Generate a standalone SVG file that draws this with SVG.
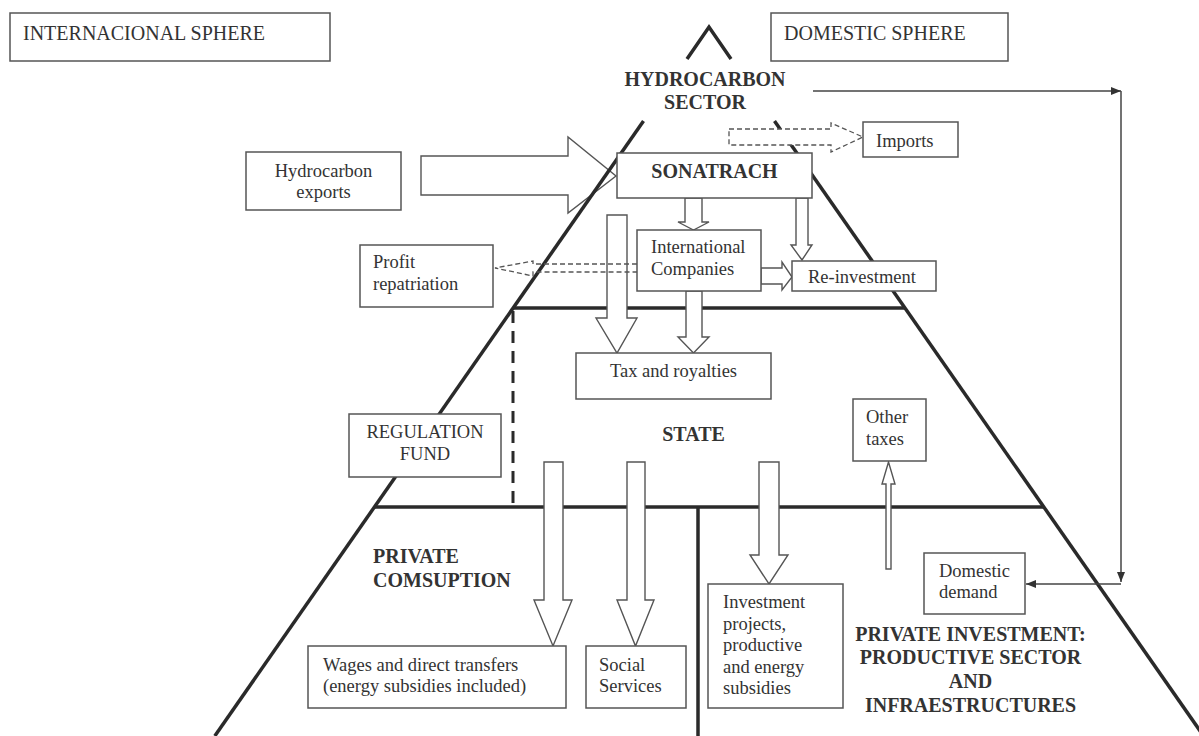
<svg xmlns="http://www.w3.org/2000/svg" width="1199" height="736" viewBox="0 0 1199 736">
<defs>
<style>
.box{fill:#fff;stroke:#555;stroke-width:1.5}
.t{font-family:"Liberation Serif","Times New Roman",serif;font-size:18.5px;fill:#333}
.sp{font-family:"Liberation Serif","Times New Roman",serif;font-size:20px;fill:#333}
.b{font-family:"Liberation Serif","Times New Roman",serif;font-size:20px;font-weight:bold;fill:#333}
.pyr{stroke:#2a2a2a;stroke-width:3.5;fill:none;stroke-linecap:butt}
.hol{fill:#fff;stroke:#555;stroke-width:1.4;stroke-linejoin:miter}
.dash{stroke:#555;stroke-width:1.3;stroke-dasharray:5 3}
.thin{stroke:#444;stroke-width:1.5;fill:none}
</style>
<marker id="ah" viewBox="0 0 10 8" refX="10" refY="4" markerWidth="10" markerHeight="8" markerUnits="userSpaceOnUse" orient="auto"><path d="M0,0 L10,4 L0,8 z" fill="#333"/></marker>
</defs>
<rect width="1199" height="736" fill="#fff"/>

<g id="connectors">
  <polygon class="hol" points="421,156 568,156 568,137 616,176 568,213 568,195 421,195"/>
  <path class="pyr" d="M687,59 L709,27 L731,59"/>
  <path class="pyr" d="M643.5,121 L214.8,736"/>
  <path class="pyr" d="M774.5,121 L1205,738"/>
  <path class="pyr" d="M513,308 H905"/>
  <path class="pyr" d="M374,507 H1044"/>
  <path class="pyr" d="M698,507 V736"/>
  <path d="M513,311 V507" stroke="#2a2a2a" stroke-width="3" stroke-dasharray="12 8"/>
  <polygon class="hol" points="685,198 702,198 702,222 709,222 693.5,230 678,222 685,222"/>
  <polygon class="hol" points="796,198 808,198 808,245 812,245 802,260 791,245 796,245"/>
  <polygon class="hol" points="761,268 782,268 782,262 792,277 782,290 782,284 761,284"/>
  <polygon class="hol" points="686,291 702,291 702,337 709,337 693.5,353 678,337 686,337"/>
  <polygon class="hol" points="607,215 627,215 627,318 637,318 617,353 596,318 607,318"/>
  <polygon class="hol" points="544,462 563,462 563,600 572,600 553,646 534,600 544,600"/>
  <polygon class="hol" points="627,462 645,462 645,600 654,600 635.5,646 617,600 627,600"/>
  <polygon class="hol" points="759,462 779,462 779,555 788,555 769,584 750,555 759,555"/>
  <polygon class="hol" points="886,569 891,569 891,484 895,484 888.5,462 882,484 886,484"/>
  <polygon class="dash" fill="#fff" points="729,129 831,129 831,123 863,137 831,152 831,145 729,145"/>
  <polygon class="dash" fill="none" points="645,264 533,264 533,261 495,268 533,276 533,272 645,272"/>
  <path class="thin" d="M813,91 H1121" marker-end="url(#ah)"/>
  <path class="thin" d="M1121,91 V582" marker-end="url(#ah)"/>
  <path class="thin" d="M1121,584 H1026" marker-end="url(#ah)"/>
</g>

<g id="intl-sphere"><rect class="box" x="10" y="13" width="320" height="48"/><text class="sp" x="23" y="40">INTERNACIONAL SPHERE</text></g>
<g id="dom-sphere"><rect class="box" x="771" y="13" width="237" height="48"/><text class="sp" x="784" y="40">DOMESTIC SPHERE</text></g>
<g id="hydro-sector"><text class="b" x="705" y="86" text-anchor="middle">HYDROCARBON</text><text class="b" x="705" y="109" text-anchor="middle">SECTOR</text></g>
<g id="imports"><rect class="box" x="863" y="122" width="95" height="35"/><text class="t" x="876" y="147">Imports</text></g>
<g id="hc-exports"><rect class="box" x="246" y="152" width="155" height="58"/><text class="t" x="323.5" y="177" text-anchor="middle">Hydrocarbon</text><text class="t" x="323.5" y="198" text-anchor="middle">exports</text></g>
<g id="sonatrach"><rect class="box" x="617" y="153" width="195" height="45"/><text class="b" x="714.5" y="178" text-anchor="middle">SONATRACH</text></g>
<g id="profit"><rect class="box" x="360" y="245" width="133" height="62"/><text class="t" x="373" y="268">Profit</text><text class="t" x="373" y="290">repatriation</text></g>
<g id="intl-companies"><rect class="box" x="637" y="230" width="124" height="61"/><text class="t" x="651" y="253">International</text><text class="t" x="651" y="275">Companies</text></g>
<g id="reinvestment"><rect class="box" x="792" y="261" width="144" height="30"/><text class="t" x="808" y="283">Re-investment</text></g>
<g id="tax"><rect class="box" x="576" y="353" width="195" height="46"/><text class="t" x="673.5" y="377" text-anchor="middle">Tax and royalties</text></g>
<g id="regulation"><rect class="box" x="349" y="414" width="152" height="63"/><text class="t" x="425" y="438" text-anchor="middle">REGULATION</text><text class="t" x="425" y="460" text-anchor="middle">FUND</text></g>
<g id="state"><text class="b" x="693.5" y="441" text-anchor="middle">STATE</text></g>
<g id="other-taxes"><rect class="box" x="853" y="399" width="73" height="62"/><text class="t" x="866" y="423">Other</text><text class="t" x="866" y="445">taxes</text></g>
<g id="private-consumption"><text class="b" x="373" y="563">PRIVATE</text><text class="b" x="373" y="587">COMSUPTION</text></g>
<g id="domestic-demand"><rect class="box" x="924" y="553" width="101" height="61"/><text class="t" x="939" y="577">Domestic</text><text class="t" x="939" y="598">demand</text></g>
<g id="investment"><rect class="box" x="708" y="584" width="135" height="124"/><text class="t" x="723" y="608">Investment</text><text class="t" x="723" y="629.5">projects,</text><text class="t" x="723" y="651">productive</text><text class="t" x="723" y="672.5">and energy</text><text class="t" x="723" y="694">subsidies</text></g>
<g id="wages"><rect class="box" x="308" y="646" width="258" height="62"/><text class="t" x="323" y="671">Wages and direct transfers</text><text class="t" x="323" y="692">(energy subsidies included)</text></g>
<g id="social"><rect class="box" x="586" y="646" width="100" height="62"/><text class="t" x="599" y="671">Social</text><text class="t" x="599" y="692">Services</text></g>
<g id="private-investment"><text class="b" x="970.5" y="641" text-anchor="middle">PRIVATE INVESTMENT:</text><text class="b" x="970.5" y="664" text-anchor="middle">PRODUCTIVE SECTOR</text><text class="b" x="970.5" y="688" text-anchor="middle">AND</text><text class="b" x="970.5" y="712" text-anchor="middle">INFRAESTRUCTURES</text></g>
</svg>
